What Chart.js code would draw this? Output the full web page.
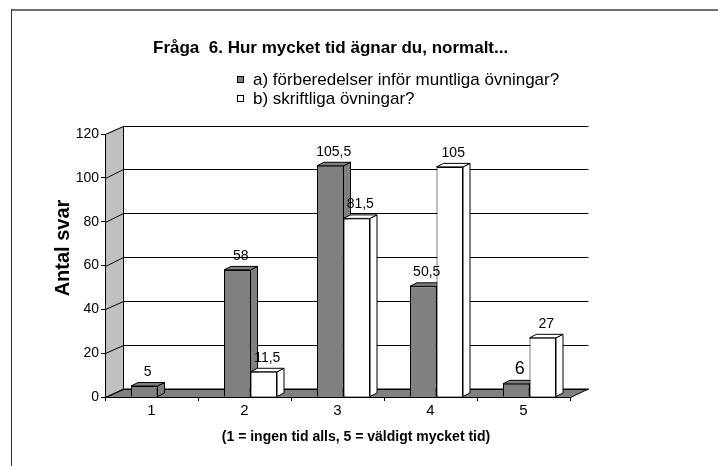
<!DOCTYPE html>
<html lang="sv">
<head>
<meta charset="UTF-8">
<title>Fråga 6</title>
<script src="https://cdn.jsdelivr.net/npm/chart.js"></script>
<style>
  html, body { margin: 0; padding: 0; background: #fff; }
  #wrap { position: relative; width: 718px; height: 466px; }
</style>
</head>
<body>
<div id="wrap"><canvas id="chart" width="718" height="466"></canvas></div>
<script>
// data
const categories = ['1', '2', '3', '4', '5'];
const seriesA = [5, 58, 105.5, 50.5, 6];
const seriesB = [null, 11.5, 81.5, 105, 27];
const seriesNames = ['a) förberedelser inför muntliga övningar?', 'b) skriftliga övningar?'];
const yTicks = [0, 20, 40, 60, 80, 100, 120];
const chartTitle = 'Fråga  6. Hur mycket tid ägnar du, normalt...';
const xTitle = '(1 = ingen tid alls, 5 = väldigt mycket tid)';
const yTitle = 'Antal svar';

const FONT = '"Liberation Sans", Arial, Helvetica, sans-serif';
const GRAY = '#808080';
const WALL = '#c0c0c0';
const DEPTH = { x: 18, y: -8.5 };      // back wall offset
const BAR_DEPTH = { x: 7, y: -3.5 };   // bar side / top
const BAR_SHIFT = 6;                   // bars sit a little into the floor
const BIG_LABEL = { dataset: 0, index: 4 }; // the "6" is printed larger

Chart.defaults.font.family = FONT;
Chart.defaults.color = '#000';

const fmt = v => String(v).replace('.', ',');

const box3d = {
  id: 'box3d',
  beforeDraw(chart) {
    const { ctx, chartArea: a, scales: { y } } = chart;
    const L = a.left + 0.5, R = a.right + 0.5, T = a.top, B = a.bottom + 0.5;
    ctx.save();

    // outer frame (only top and left are inside the picture)
    ctx.strokeStyle = '#707070';
    ctx.lineWidth = 2;
    ctx.beginPath(); ctx.moveTo(11, 10); ctx.lineTo(chart.width, 10); ctx.stroke();
    ctx.strokeStyle = '#333';
    ctx.lineWidth = 1;
    ctx.beginPath(); ctx.moveTo(11.5, 9); ctx.lineTo(11.5, chart.height); ctx.stroke();

    // left wall
    ctx.fillStyle = WALL;
    ctx.beginPath();
    ctx.moveTo(L, B); ctx.lineTo(L, T);
    ctx.lineTo(L + DEPTH.x, T + DEPTH.y); ctx.lineTo(L + DEPTH.x, B + DEPTH.y);
    ctx.closePath(); ctx.fill();
    ctx.strokeStyle = '#000';
    ctx.beginPath();
    ctx.moveTo(L + DEPTH.x, Math.round(T + DEPTH.y) + 0.5);
    ctx.lineTo(L + DEPTH.x, Math.round(B + DEPTH.y) + 0.5);
    ctx.stroke();

    // floor
    ctx.fillStyle = GRAY;
    ctx.beginPath();
    ctx.moveTo(L, B); ctx.lineTo(R, B);
    ctx.lineTo(R + DEPTH.x, B + DEPTH.y); ctx.lineTo(L + DEPTH.x, B + DEPTH.y);
    ctx.closePath(); ctx.fill(); ctx.stroke();

    // gridlines on left and back wall
    ctx.beginPath();
    yTicks.forEach(v => {
      const fy = Math.round(y.getPixelForValue(v)) + 0.5;
      const by = Math.round(y.getPixelForValue(v) + DEPTH.y) + 0.5;
      ctx.moveTo(L, fy);
      ctx.lineTo(L + DEPTH.x, by);
      ctx.lineTo(R + DEPTH.x, by);
    });
    ctx.stroke();

    // title
    ctx.fillStyle = '#000';
    ctx.textBaseline = 'alphabetic';
    ctx.textAlign = 'left';
    ctx.font = 'bold 17px ' + FONT;
    ctx.fillText(chartTitle, 153, 53);

    // legend
    ctx.font = '17px ' + FONT;
    ctx.textBaseline = 'middle';
    chart.data.datasets.forEach((ds, k) => {
      const cy = 79 + k * 19;
      ctx.fillStyle = ds.backgroundColor;
      ctx.fillRect(237, cy - 3, 7, 7);
      ctx.strokeStyle = '#000';
      ctx.strokeRect(237.5, cy - 2.5, 6, 6);
      ctx.fillStyle = '#000';
      ctx.fillText(ds.label, 253, cy + 1);
    });

    // axis titles
    ctx.textAlign = 'center';
    ctx.font = 'bold 14px ' + FONT;
    ctx.fillText(xTitle, 356, 437);
    ctx.translate(63, 248);
    ctx.rotate(-Math.PI / 2);
    ctx.font = 'bold 20px ' + FONT;
    ctx.fillText(yTitle, 0, 0);
    ctx.restore();
  },
  // side and top faces go under the fronts, so the right bar hides the left one's side
  beforeDatasetsDraw(chart) {
    const ctx = chart.ctx;
    ctx.save();
    ctx.translate(BAR_SHIFT, 0);
    ctx.strokeStyle = '#000';
    ctx.lineWidth = 1;
    chart.data.datasets.forEach((ds, d) => {
      ctx.fillStyle = ds.backgroundColor;
      chart.getDatasetMeta(d).data.forEach((bar, i) => {
        if (ds.data[i] == null) return;
        const { x, y, base, width } = bar.getProps(['x', 'y', 'base', 'width'], true);
        const x0 = x - width / 2, x1 = x + width / 2;
        ctx.beginPath();
        ctx.moveTo(x1, base); ctx.lineTo(x1, y);
        ctx.lineTo(x1 + BAR_DEPTH.x, y + BAR_DEPTH.y);
        ctx.lineTo(x1 + BAR_DEPTH.x, base + BAR_DEPTH.y);
        ctx.closePath(); ctx.fill(); ctx.stroke();
        ctx.beginPath();
        ctx.moveTo(x0, y); ctx.lineTo(x1, y);
        ctx.lineTo(x1 + BAR_DEPTH.x, y + BAR_DEPTH.y);
        ctx.lineTo(x0 + BAR_DEPTH.x, y + BAR_DEPTH.y);
        ctx.closePath(); ctx.fill(); ctx.stroke();
      });
    });
  },
  afterDatasetsDraw(chart) {
    const ctx = chart.ctx;
    ctx.restore();
    ctx.save();
    ctx.fillStyle = '#000';
    ctx.textAlign = 'center';
    ctx.textBaseline = 'alphabetic';
    chart.data.datasets.forEach((ds, d) => {
      chart.getDatasetMeta(d).data.forEach((bar, i) => {
        const v = ds.data[i];
        if (v == null) return;
        const big = d === BIG_LABEL.dataset && i === BIG_LABEL.index;
        ctx.font = (big ? '18px ' : '14px ') + FONT;
        ctx.fillText(fmt(v), bar.x + BAR_SHIFT + BAR_DEPTH.x / 2, bar.y - 10);
      });
    });
    ctx.restore();
  }
};

new Chart(document.getElementById('chart'), {
  type: 'bar',
  data: {
    labels: categories,
    datasets: [
      { label: seriesNames[0], data: seriesA, backgroundColor: GRAY, borderColor: '#000', borderWidth: 1 },
      { label: seriesNames[1], data: seriesB, backgroundColor: '#ffffff', borderColor: '#000', borderWidth: 1 }
    ]
  },
  options: {
    responsive: false,
    animation: false,
    categoryPercentage: 0.57,
    barPercentage: 1,
    layout: { padding: { top: 134, right: 148, left: 0, bottom: 0 } },
    plugins: { legend: { display: false }, tooltip: { enabled: false }, title: { display: false } },
    scales: {
      x: {
        grid: { drawOnChartArea: false, offset: true, tickLength: 4, color: '#000' },
        border: { color: '#000' },
        ticks: { font: { size: 15 }, color: '#000', padding: 1 },
        afterFit: s => { s.height = 69; }
      },
      y: {
        min: 0,
        max: 120,
        afterBuildTicks: s => { s.ticks = yTicks.map(v => ({ value: v })); },
        grid: { drawOnChartArea: false, tickLength: 4, color: '#000' },
        border: { color: '#000' },
        ticks: { font: { size: 14 }, color: '#000', padding: 2 },
        afterFit: s => { s.width = 105; }
      }
    }
  },
  plugins: [box3d]
});
</script>
</body>
</html>
